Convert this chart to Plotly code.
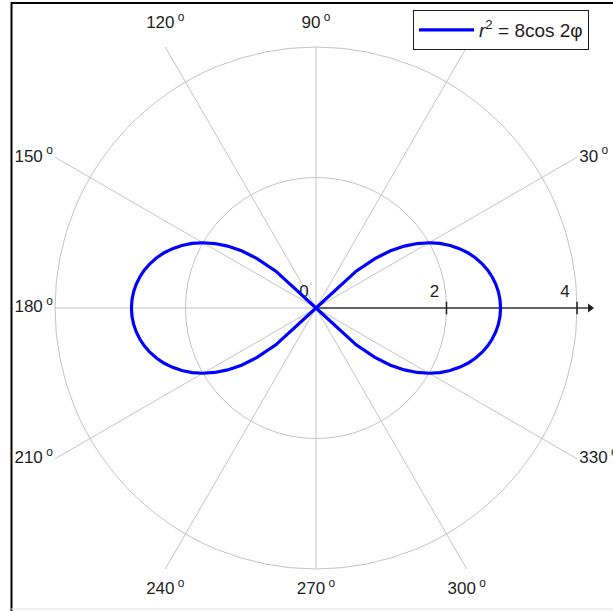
import numpy as np
import plotly.graph_objects as go

# ---- data ----
lobe_angles = [-45, -42.5, -40, -37.5, -35, -32.5, -30, -27.5, -25, -22.5, -20, -17.5, -15, -12.5, -10, -7.5, -5, -2.5,
               0, 2.5, 5, 7.5, 10, 12.5, 15, 17.5, 20, 22.5, 25, 27.5, 30, 32.5, 35, 37.5, 40, 42.5, 45]
lobe_r = [0.0, 0.835, 1.179, 1.439, 1.654, 1.839, 2.000, 2.142, 2.268, 2.378, 2.476, 2.560, 2.632, 2.693, 2.742, 2.780, 2.807, 2.823,
          2.828, 2.823, 2.807, 2.780, 2.742, 2.693, 2.632, 2.560, 2.476, 2.378, 2.268, 2.142, 2.000, 1.839, 1.654, 1.439, 1.179, 0.835, 0.0]
spoke_angles = [0, 30, 60, 90, 120, 150, 180, 210, 240, 270, 300, 330]
angle_labels = [30, 60, 90, 120, 150, 180, 210, 240, 270, 300, 330]
grid_circles = [2, 4]
radial_ticks = [0, 2, 4]
radial_max = 4
axis_end = 4.2
series_name = "<i>r</i><sup>2</sup> = 8cos 2φ"

FONT = "Liberation Sans, Arial, sans-serif"
GRID = "#c3c3c3"
INK = "#1e1e1e"

W, H = 613, 611
SCALE = 65.25          # pixels per radial unit
CX, CY = 316, 308      # pixel position of the pole


def xy(r, a):
    t = np.deg2rad(np.asarray(a, dtype=float))
    return np.asarray(r, dtype=float) * np.cos(t), np.asarray(r, dtype=float) * np.sin(t)


def box_r(a):
    t = np.deg2rad(a)
    return radial_max / max(abs(np.cos(t)), abs(np.sin(t)))


fig = go.Figure()

# spokes reaching the square around the outer circle
sx, sy = [], []
for a in spoke_angles:
    ex, ey = xy(box_r(a), a)
    sx += [0, float(ex), None]
    sy += [0, float(ey), None]
fig.add_trace(go.Scatter(x=sx, y=sy, mode="lines", line=dict(color=GRID, width=1),
                         showlegend=False, hoverinfo="skip"))

# radial axis line, arrow head and ticks
fig.add_trace(go.Scatter(x=[0, axis_end], y=[0, 0], mode="lines", line=dict(color="#3a3a3a", width=1.6),
                         showlegend=False, hoverinfo="skip"))
fig.add_trace(go.Scatter(x=[axis_end], y=[0], mode="markers",
                         marker=dict(symbol="triangle-right", size=8, color=INK),
                         showlegend=False, hoverinfo="skip", cliponaxis=False))
fig.add_trace(go.Scatter(x=radial_ticks[1:], y=[0] * (len(radial_ticks) - 1), mode="markers",
                         marker=dict(symbol="line-ns", size=9, line=dict(color=INK, width=1.5)),
                         showlegend=False, hoverinfo="skip"))
fig.add_trace(go.Scatter(x=radial_ticks, y=[0] * len(radial_ticks), mode="markers+text",
                         marker=dict(size=10, color="rgba(0,0,0,0)"),
                         text=[str(v) for v in radial_ticks], textposition="top left",
                         textfont=dict(family=FONT, size=17, color=INK),
                         showlegend=False, hoverinfo="skip"))

# angular labels at the spoke ends
groups = [
    ([60, 90, 120], "top center", 22),
    ([240, 270, 300], "bottom center", 18),
    ([150, 180, 210], "middle left", 2),
    ([30, 330], "middle right", 2),
]
for angs, tp, msize in groups:
    angs = [a for a in angs if a in angle_labels]
    lx, ly = [], []
    for a in angs:
        ex, ey = xy(box_r(a), a)
        lx.append(float(ex))
        ly.append(float(ey))
    fig.add_trace(go.Scatter(x=lx, y=ly, mode="markers+text",
                             marker=dict(size=msize, color="rgba(0,0,0,0)"),
                             text=[f"{a}<sup> o</sup>" for a in angs], textposition=tp,
                             textfont=dict(family=FONT, size=17, color=INK),
                             showlegend=False, hoverinfo="skip", cliponaxis=False))

# the lemniscate: right lobe and left lobe (same radii, angles + 180)
rx, ry = xy(lobe_r, lobe_angles)
lx, ly = xy(lobe_r, [a + 180 for a in lobe_angles])
fig.add_trace(go.Scatter(x=list(rx) + [None] + list(lx), y=list(ry) + [None] + list(ly),
                         mode="lines", name=series_name,
                         line=dict(color="#0000ff", width=3.2), connectgaps=False))

# grid circles
shapes = [dict(type="circle", xref="x", yref="y", x0=-c, y0=-c, x1=c, y1=c,
               line=dict(color=GRID, width=1), layer="below") for c in grid_circles]
# picture frame
shapes += [
    dict(type="line", xref="paper", yref="paper", x0=11.5 / W, x1=11.5 / W, y0=0, y1=1 - 2 / H,
         line=dict(color="black", width=2)),
    dict(type="line", xref="paper", yref="paper", x0=11 / W, x1=1, y0=1 - 3 / H, y1=1 - 3 / H,
         line=dict(color="black", width=2)),
    dict(type="line", xref="paper", yref="paper", x0=11 / W, x1=1, y0=1 - 609 / H, y1=1 - 609 / H,
         line=dict(color="#e2e2e2", width=1)),
]

fig.update_layout(
    width=W, height=H,
    margin=dict(l=0, r=0, t=0, b=0),
    paper_bgcolor="white", plot_bgcolor="white",
    font=dict(family=FONT, size=17, color=INK),
    xaxis=dict(range=[-CX / SCALE, (W - CX) / SCALE], visible=False, fixedrange=True),
    yaxis=dict(range=[-(H - CY) / SCALE, CY / SCALE], visible=False, fixedrange=True),
    showlegend=True,
    legend=dict(x=413 / W, y=1 - 10 / H, xanchor="left", yanchor="top", bgcolor="white",
                bordercolor=INK, borderwidth=1, itemwidth=55,
                font=dict(family=FONT, size=19, color=INK)),
    shapes=shapes,
)

fig.write_html("out.html", config={"displayModeBar": False},
               post_script="document.body.style.margin='0';")
